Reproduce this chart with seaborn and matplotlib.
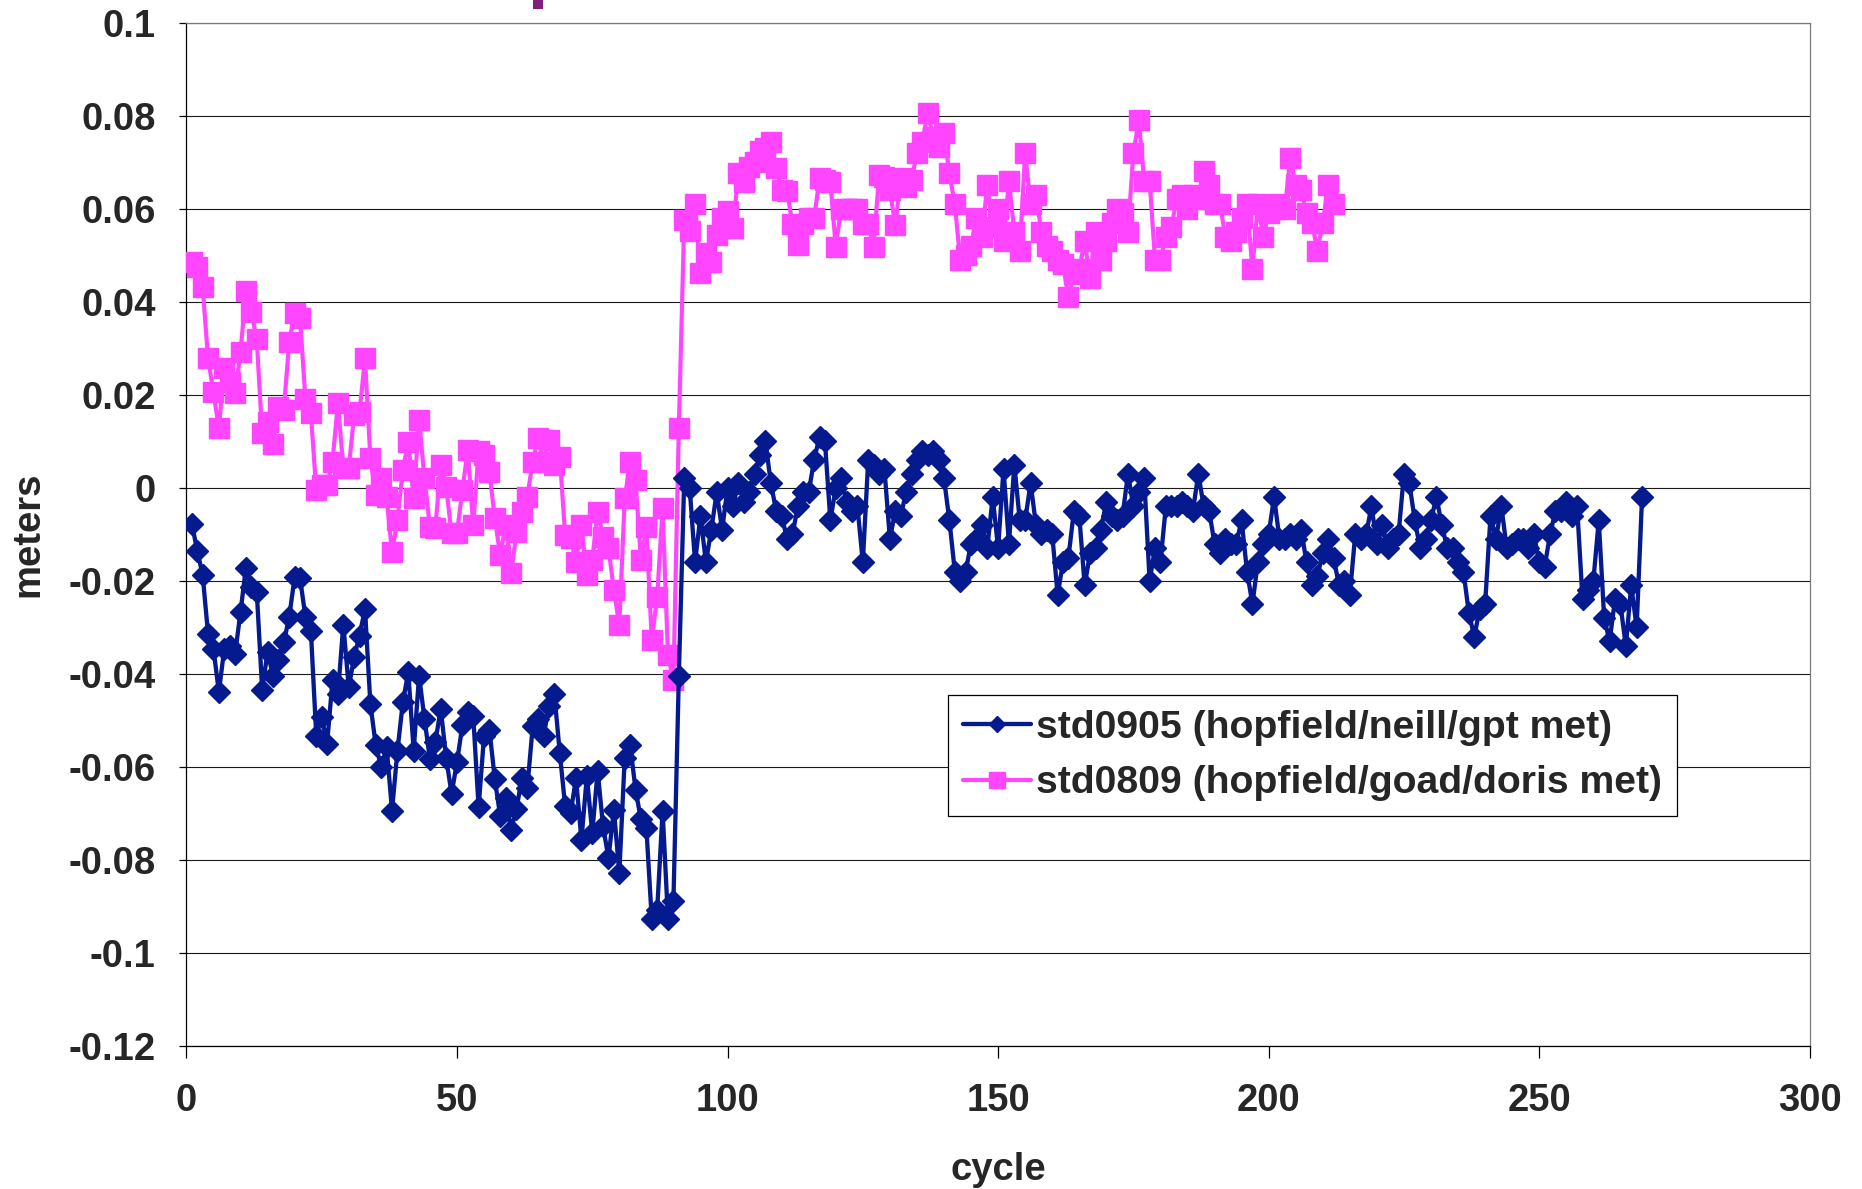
import numpy as np
import pandas as pd
import matplotlib
matplotlib.use("Agg")
import matplotlib.pyplot as plt
from matplotlib.patches import Rectangle
import seaborn as sns

# ---------------- data ----------------
series_names = ["std0905 (hopfield/neill/gpt met)", "std0809 (hopfield/goad/doris met)"]

std0905_first_cycle = 1
std0905 = [
    -0.0077, -0.0135, -0.0187, -0.0314, -0.0346, -0.0439, -0.0346, -0.0340, -0.0357, -0.0267,
    -0.0172, -0.0214, -0.0223, -0.0434, -0.0353, -0.0404, -0.0371, -0.0332, -0.0278, -0.0192,
    -0.0194, -0.0278, -0.0307, -0.0533, -0.0493, -0.0550, -0.0414, -0.0443, -0.0294, -0.0429,
    -0.0364, -0.0318, -0.0260, -0.0465, -0.0554, -0.0600, -0.0558, -0.0694, -0.0565, -0.0461,
    -0.0396, -0.0565, -0.0404, -0.0497, -0.0583, -0.0547, -0.0475, -0.0580, -0.0658, -0.0590,
    -0.0511, -0.0482, -0.0490, -0.0687, -0.0534, -0.0520, -0.0627, -0.0706, -0.0667, -0.0735,
    -0.0690, -0.0624, -0.0645, -0.0513, -0.0498, -0.0534, -0.0470, -0.0444, -0.0570, -0.0685,
    -0.0699, -0.0624, -0.0757, -0.0620, -0.0742, -0.0609, -0.0728, -0.0796, -0.0692, -0.0828,
    -0.0581, -0.0552, -0.0649, -0.0713, -0.0731, -0.0928, -0.0907, -0.0695, -0.0928, -0.0889,
    -0.0405,
    0.002, 0.000, -0.016, -0.006, -0.016, -0.009, -0.001, -0.009, 0.000, -0.004,
    0.001, -0.003, -0.001, 0.003, 0.007, 0.010, 0.001, -0.005, -0.006, -0.011,
    -0.010, -0.004, -0.001, -0.001, 0.006, 0.011, 0.010, -0.007, -0.000, 0.002,
    -0.003, -0.005, -0.004, -0.016, 0.006, 0.005, 0.003, 0.004, -0.011, -0.005,
    -0.006, -0.001, 0.003, 0.006, 0.008, 0.007, 0.008, 0.006, 0.002, -0.007,
    -0.018, -0.020, -0.018, -0.012, -0.011, -0.008, -0.013, -0.002, -0.013, 0.004,
    -0.012, 0.005, -0.007, -0.007, 0.001, -0.008, -0.010, -0.009, -0.010, -0.023,
    -0.016, -0.015, -0.005, -0.006, -0.021, -0.014, -0.013, -0.009, -0.003, -0.006,
    -0.007, -0.006, 0.003, -0.004, -0.001, 0.002, -0.020, -0.013, -0.016, -0.004,
    -0.004, -0.004, -0.003, -0.004, -0.005, 0.003, -0.004, -0.005, -0.012, -0.014,
    -0.011, -0.012, -0.012, -0.007, -0.018, -0.025, -0.016, -0.012, -0.010, -0.002,
    -0.011, -0.011, -0.010, -0.011, -0.009, -0.016, -0.021, -0.019, -0.014, -0.011,
    -0.015, -0.021, -0.020, -0.023, -0.010, -0.011, -0.010, -0.004, -0.012, -0.008,
    -0.013, -0.011, -0.010, 0.003, 0.001, -0.007, -0.013, -0.011, -0.007, -0.002,
    -0.008, -0.013, -0.013, -0.016, -0.018, -0.027, -0.032, -0.026, -0.025, -0.006,
    -0.011, -0.004, -0.013, -0.012, -0.011, -0.011, -0.013, -0.010, -0.016, -0.017,
    -0.010, -0.005, -0.005, -0.003, -0.006, -0.004, -0.024, -0.022, -0.020, -0.007,
    -0.028, -0.033, -0.024, -0.025, -0.034, -0.021, -0.030, -0.002,
]

std0809_first_cycle = 1
std0809 = [
    0.0486, 0.0475, 0.0432, 0.0278, 0.0206, 0.0128, 0.0257, 0.0228, 0.0203, 0.0292,
    0.0422, 0.0378, 0.0319, 0.0117, 0.0142, 0.0095, 0.0174, 0.0167, 0.0314, 0.0375,
    0.0364, 0.0190, 0.0160, -0.0005, 0.0006, 0.0006, 0.0056, 0.0183, 0.0042, 0.0042,
    0.0156, 0.0163, 0.0278, 0.0063, -0.0016, 0.0020, -0.0020, -0.0138, -0.0070, 0.0038,
    0.0099, -0.0023, 0.0146, 0.0020, -0.0084, -0.0087, 0.0049, 0.0002, -0.0098, -0.0098,
    -0.0005, 0.0081, -0.0080, 0.0078, 0.0070, 0.0034, -0.0066, -0.0145, -0.0080, -0.0184,
    -0.0095, -0.0052, -0.0019, 0.0056, 0.0106, 0.0056, 0.0103, 0.0049, 0.0067, -0.0102,
    -0.0109, -0.0159, -0.0080, -0.0188, -0.0156, -0.0052, -0.0105, -0.0130, -0.0220, -0.0295,
    -0.0023, 0.0056, 0.0016, -0.0156, -0.0084, -0.0328, -0.0234, -0.0044, -0.0360, -0.0414,
    0.0128,
    0.0576, 0.0551, 0.0611, 0.0461, 0.0504, 0.0486, 0.0543, 0.0579, 0.0594, 0.0558,
    0.0676, 0.0658, 0.0690, 0.0701, 0.0723, 0.0730, 0.0744, 0.0687, 0.0640, 0.0637,
    0.0568, 0.0522, 0.0568, 0.0579, 0.0579, 0.0665, 0.0662, 0.0658, 0.0518, 0.0600,
    0.0600, 0.0600, 0.0600, 0.0568, 0.0568, 0.0518, 0.0672, 0.0669, 0.0640, 0.0565,
    0.0665, 0.0647, 0.0662, 0.0719, 0.0744, 0.0805, 0.0755, 0.0733, 0.0762, 0.0676,
    0.061, 0.049, 0.050, 0.052, 0.058, 0.054, 0.065, 0.056, 0.060, 0.053,
    0.066, 0.055, 0.051, 0.072, 0.061, 0.063, 0.055, 0.052, 0.051, 0.049,
    0.048, 0.041, 0.046, 0.047, 0.053, 0.045, 0.055, 0.049, 0.053, 0.057,
    0.060, 0.059, 0.055, 0.072, 0.079,
    0.066, 0.066, 0.049, 0.049, 0.054, 0.056, 0.062, 0.063, 0.060, 0.063,
    0.062, 0.068, 0.065, 0.061, 0.061, 0.054, 0.053, 0.055, 0.058, 0.061,
    0.047, 0.061, 0.054, 0.059, 0.060, 0.061, 0.060, 0.071, 0.065, 0.064,
    0.059, 0.057, 0.051, 0.057, 0.065, 0.061,
]

x_ticks = [0, 50, 100, 150, 200, 250, 300]
y_ticks = [-0.12, -0.1, -0.08, -0.06, -0.04, -0.02, 0, 0.02, 0.04, 0.06, 0.08, 0.1]
y_tick_labels = ["-0.12", "-0.1", "-0.08", "-0.06", "-0.04", "-0.02", "0",
                 "0.02", "0.04", "0.06", "0.08", "0.1"]
x_label = "cycle"
y_label = "meters"

# ---------------- styling ----------------
NAVY = "#061A8F"
PINK = "#FF45FF"
FS = 27.5
LEG_FS = 28.2

sns.set_theme(style="white")
base_family = ["Liberation Sans", "DejaVu Sans"]
plt.rcParams["font.family"] = base_family
plt.rcParams["font.weight"] = "bold"

fig = plt.figure(figsize=(18.62, 11.89), dpi=100)
fig.patch.set_facecolor("white")
ax = fig.add_axes([186.4 / 1862, 1 - 1046 / 1189, (1809.8 - 186.4) / 1862, (1046 - 22.6) / 1189])

df_a = pd.DataFrame({"cycle": np.arange(std0905_first_cycle, std0905_first_cycle + len(std0905)),
                     "meters": std0905})
df_b = pd.DataFrame({"cycle": np.arange(std0809_first_cycle, std0809_first_cycle + len(std0809)),
                     "meters": std0809})

sns.lineplot(data=df_b, x="cycle", y="meters", ax=ax, color=PINK, marker="s",
             markersize=14.5, markeredgecolor=PINK, markeredgewidth=1.0,
             linewidth=3.0, label=series_names[1], zorder=3)
sns.lineplot(data=df_a, x="cycle", y="meters", ax=ax, color=NAVY, marker="D",
             markersize=11.5, markeredgecolor=NAVY, markeredgewidth=1.0,
             linewidth=3.1, label=series_names[0], zorder=4)

ax.set_xlim(0, 300)
ax.set_ylim(-0.12, 0.1)
ax.set_xticks(x_ticks)
ax.set_xticklabels([str(t) for t in x_ticks])
ax.set_yticks(y_ticks)
ax.set_yticklabels(y_tick_labels)

ax.grid(axis="y", color="#1a1a1a", linewidth=0.8)
ax.grid(axis="x", visible=False)
ax.set_axisbelow(True)
for side, sp in ax.spines.items():
    sp.set_visible(True)
    sp.set_linewidth(0.9)
    sp.set_color("black" if side in ("left", "bottom") else "#7a7a7a")

ax.tick_params(axis="x", direction="out", length=8.5, width=0.9, color="black",
               pad=18, labelsize=FS, bottom=True)
ax.tick_params(axis="y", direction="out", length=5, width=0.9, color="black",
               pad=17, labelsize=FS, left=True)
for lab in ax.get_xticklabels() + ax.get_yticklabels():
    lab.set_fontweight("bold")

ax.set_xlabel(x_label, fontsize=FS, fontweight="bold")
ax.set_ylabel(y_label, fontsize=FS, fontweight="bold")
ax.xaxis.set_label_coords(0.5, -(1170 - 1046) / 1023.4)
ax.xaxis.label.set_va("center")
ax.yaxis.set_label_coords(-(186.4 - 28) / 1623.4, 0.5)
ax.yaxis.label.set_va("center")

handles, labels = ax.get_legend_handles_labels()
order = [labels.index(series_names[0]), labels.index(series_names[1])]
leg = ax.legend([handles[i] for i in order], [labels[i] for i in order],
                loc="upper left", bbox_to_anchor=((948 - 186.4) / 1623.4, 1 - (695 - 22.6) / 1023.4),
                borderaxespad=0, frameon=True, fancybox=False, shadow=False,
                edgecolor="black", framealpha=1, handlelength=1.75, handletextpad=0.12,
                markerscale=0.75, labelspacing=0.5, borderpad=0.38,
                prop={"weight": "bold", "size": LEG_FS, "family": base_family})
leg.get_frame().set_linewidth(0.9)
leg.set_zorder(10)

# small purple fragment visible above the plot in the reference
fig.add_artist(Rectangle((533 / 1862, 1 - 9 / 1189), 10 / 1862, 9 / 1189,
                         transform=fig.transFigure, color="#7F1F7F", lw=0))

fig.savefig("out.png", dpi=100, facecolor="white")
